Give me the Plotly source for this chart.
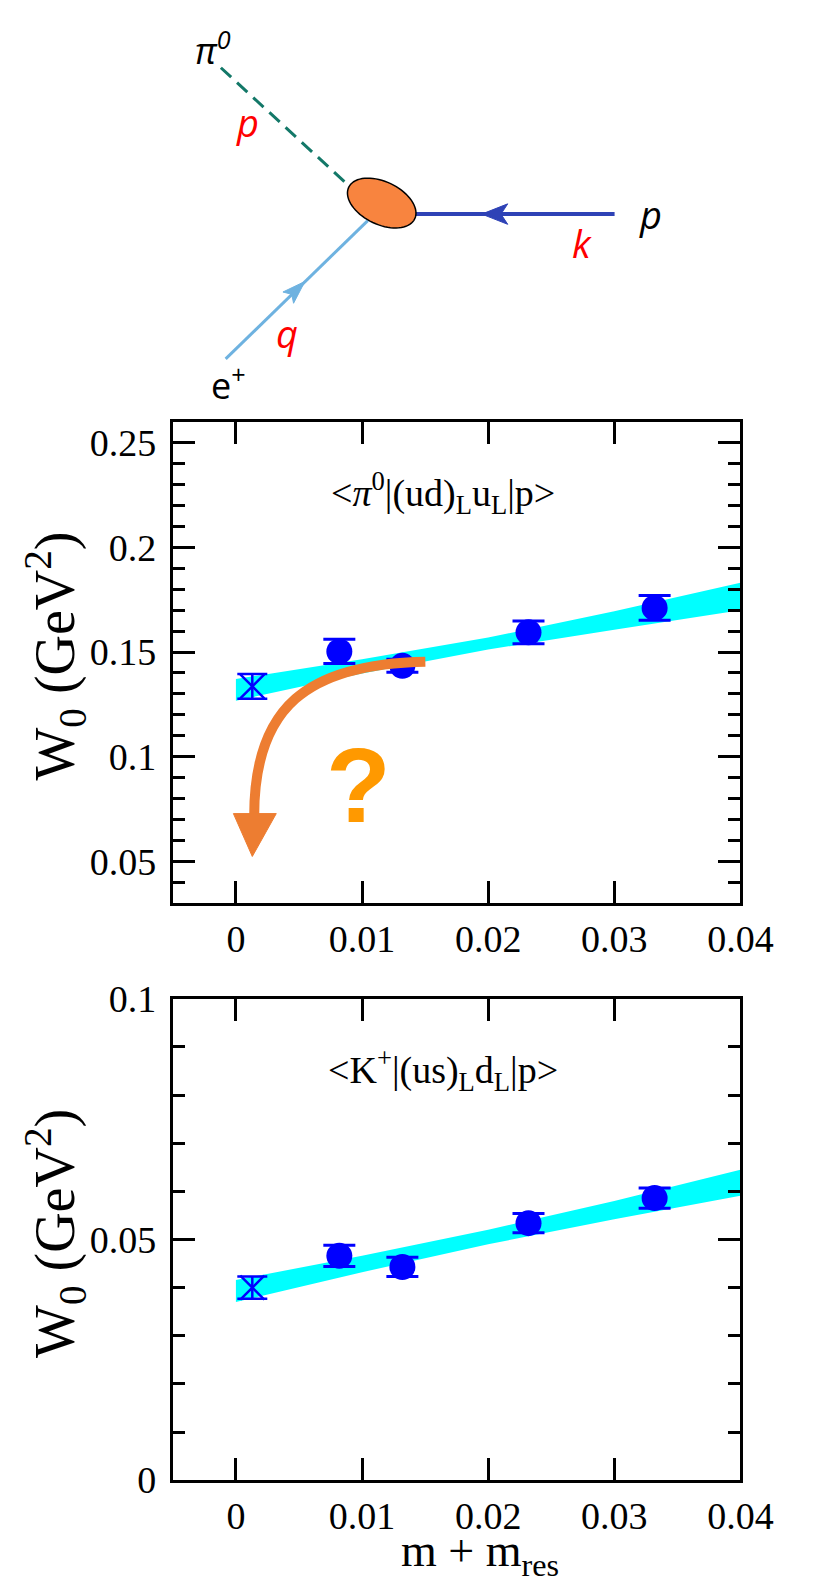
import numpy as np
import plotly.graph_objects as go

# ---------------- data ----------------
mass = [0.0082, 0.0132, 0.0232, 0.0332]          # m + m_res of the simulated points
chiral_x = [0.0013]                               # extrapolated point

pi_W0 = [0.1503, 0.1434, 0.1594, 0.1711]
pi_err = [0.0058, 0.0031, 0.0054, 0.0059]
pi_extrap = [0.1336]
pi_extrap_err = [0.0059]

K_W0 = [0.0466, 0.0443, 0.0534, 0.0586]
K_err = [0.0022, 0.0020, 0.0020, 0.0021]
K_extrap = [0.0400]
K_extrap_err = [0.0023]

band_x = [0.0, 0.01, 0.02, 0.03, 0.04]
pi_band_lo = [0.1267, 0.1398, 0.1512, 0.1607, 0.1700]
pi_band_hi = [0.1371, 0.1466, 0.1569, 0.1695, 0.1831]
K_band_lo = [0.0370, 0.0432, 0.0490, 0.0542, 0.0591]
K_band_hi = [0.0416, 0.0466, 0.0520, 0.0580, 0.0645]

x_ticks = [0, 0.01, 0.02, 0.03, 0.04]
pi_yticks = [0.05, 0.1, 0.15, 0.2, 0.25]
K_yticks = [0, 0.05, 0.1]

# ---------------- figure geometry ----------------
W, H = 831, 1595
def px(v):
    return v / W
def py(v):
    return 1 - v / H

SERIF = "Liberation Serif, Times New Roman, serif"
SANS = "Open Sans"
BLUE = "#0000FF"
CYAN = "#00FFFF"

fig = go.Figure()

def add_panel(xa, ya, lo, hi, vals, errs, ex, exerr):
    fig.add_trace(go.Scatter(
        x=band_x + band_x[::-1], y=hi + lo[::-1], fill="toself",
        fillcolor=CYAN, line=dict(width=0, color=CYAN), mode="lines",
        hoverinfo="skip", showlegend=False, xaxis=xa, yaxis=ya))
    fig.add_trace(go.Scatter(
        x=mass, y=vals, mode="markers",
        marker=dict(symbol="circle", size=26, color=BLUE),
        error_y=dict(type="data", array=errs, color=BLUE, thickness=3, width=16),
        showlegend=False, xaxis=xa, yaxis=ya))
    fig.add_trace(go.Scatter(
        x=chiral_x, y=ex, mode="markers",
        marker=dict(symbol="x-thin", size=24, color=BLUE,
                    line=dict(width=2.5, color=BLUE)),
        error_y=dict(type="data", array=exerr, color=BLUE, thickness=2.5, width=15),
        showlegend=False, xaxis=xa, yaxis=ya))

add_panel("x", "y", pi_band_lo, pi_band_hi, pi_W0, pi_err, pi_extrap, pi_extrap_err)
add_panel("x2", "y2", K_band_lo, K_band_hi, K_W0, K_err, K_extrap, K_extrap_err)

axis_common = dict(showline=True, linecolor="black", linewidth=3, mirror="ticks",
                   ticks="inside", ticklen=22, tickwidth=2.5, tickcolor="black",
                   showgrid=False, zeroline=False,
                   tickfont=dict(family=SERIF, size=38, color="black"))

xdom = [180 / W, 771 / W]
fig.update_layout(
    width=W, height=H, margin=dict(l=0, r=0, t=0, b=0),
    paper_bgcolor="white", plot_bgcolor="white", showlegend=False,
    font=dict(family=SERIF, color="black"),
    xaxis=dict(domain=xdom, range=[-0.005, 0.04], tickvals=x_ticks, anchor="y",
               **axis_common),
    yaxis=dict(domain=[py(906), py(411.7)], range=[0.03, 0.26], tickvals=pi_yticks,
               anchor="x", ticklabelstandoff=6,
               minor=dict(dtick=0.01, tick0=0, ticks="inside", ticklen=12,
                          tickwidth=2.5, tickcolor="black"),
               **axis_common),
    xaxis2=dict(domain=xdom, range=[-0.005, 0.04], tickvals=x_ticks, anchor="y2",
                **axis_common),
    yaxis2=dict(domain=[py(1498.6), py(1004.3)], range=[0, 0.1], tickvals=K_yticks,
                anchor="x2", ticklabelstandoff=6,
                minor=dict(dtick=0.01, tick0=0, ticks="inside", ticklen=12,
                           tickwidth=2.5, tickcolor="black"),
                **axis_common),
)

shapes = []
annos = []

# ---------------- orange "?" arrow in the top panel ----------------
ORANGE = "#ED7D31"
shapes.append(dict(type="path", xref="x", yref="y",
                   path="M 0.01502,0.1454 C 0.00564,0.1444 0.00145,0.1235 0.00145,0.0719",
                   line=dict(color=ORANGE, width=10), fillcolor="rgba(0,0,0,0)",
                   layer="above"))
shapes.append(dict(type="path", xref="x", yref="y",
                   path="M -0.0002,0.0728 L 0.0032,0.0728 L 0.0013,0.0523 Z",
                   line=dict(color=ORANGE, width=1), fillcolor=ORANGE, layer="above"))
annos.append(dict(xref="paper", yref="paper", x=px(373), y=py(785), text="<b>?</b>",
                  showarrow=False, xanchor="center", yanchor="middle",
                  font=dict(family="Liberation Sans", size=106, color="#FF9900")))

# ---------------- panel texts ----------------
annos.append(dict(xref="paper", yref="paper", x=px(461), y=py(485),
                  text="&lt;<i>π</i><sup>0</sup>|(ud)<sub>L</sub>u<sub>L</sub>|p&gt;",
                  showarrow=False, xanchor="center", yanchor="middle",
                  font=dict(family=SERIF, size=38, color="black")))
annos.append(dict(xref="paper", yref="paper", x=px(461), y=py(1077),
                  text="&lt;K<sup>+</sup>|(us)<sub>L</sub>d<sub>L</sub>|p&gt;",
                  showarrow=False, xanchor="center", yanchor="middle",
                  font=dict(family=SERIF, size=38, color="black")))
for yc in (652, 1245):
    annos.append(dict(xref="paper", yref="paper", x=px(57), y=py(yc),
                      text="W<sub>0</sub> (GeV<sup>2</sup>)", textangle=-90,
                      showarrow=False, xanchor="center", yanchor="middle",
                      font=dict(family=SERIF, size=56, color="black")))
annos.append(dict(xref="paper", yref="paper", x=px(500), y=py(1574),
                  text="m + m<sub>res</sub>", showarrow=False,
                  xanchor="center", yanchor="middle",
                  font=dict(family=SERIF, size=46, color="black")))

# ---------------- Feynman-like diagram (pixel geometry) ----------------
def seg(x0, y0, x1, y1, color, width, dash="solid"):
    return dict(type="line", xref="paper", yref="paper",
                x0=px(x0), y0=py(y0), x1=px(x1), y1=py(y1),
                line=dict(color=color, width=width, dash=dash), layer="above")

def path_of(points, closed=True):
    s = "M " + " L ".join(f"{px(a):.5f},{py(b):.5f}" for a, b in points)
    return s + (" Z" if closed else "")

def arrowhead(tip, direction, length, half_w, notch, color):
    d = np.array(direction, float)
    d /= np.linalg.norm(d)
    perp = np.array([-d[1], d[0]])
    t = np.array(tip, float)
    back = t - length * d
    c1 = back + half_w * perp
    c2 = back - half_w * perp
    nb = t - (length - notch) * d
    return dict(type="path", xref="paper", yref="paper",
                path=path_of([t, c1, nb, c2]), fillcolor=color,
                line=dict(color=color, width=1), layer="above")

TEAL = "#137868"
LBLUE = "#6EB2E0"
PBLUE = "#2E42B6"
shapes.append(seg(230, 48, 362, 168, TEAL, 3, "14px,8px"))
shapes.append(seg(235, 347, 383, 205, LBLUE, 3))
shapes.append(seg(430, 198.3, 640, 198.3, PBLUE, 4))
shapes.append(arrowhead((501.7, 198.3), (-1, 0), 27, 10.5, 7, PBLUE))
shapes.append(arrowhead((317.5, 267.5), (147.7, -141.7), 24, 8, 5, LBLUE))

cx, cy, ea, eb, th = 397.5, 187.0, 38.0, 22.0, np.deg2rad(25)
tt = np.linspace(0, 2 * np.pi, 73)
ell = [(cx + ea * np.cos(t) * np.cos(th) - eb * np.sin(t) * np.sin(th),
        cy + ea * np.cos(t) * np.sin(th) + eb * np.sin(t) * np.cos(th)) for t in tt]
shapes.append(dict(type="path", xref="paper", yref="paper", path=path_of(ell),
                   fillcolor="#F8843F", line=dict(color="black", width=1.5),
                   layer="above"))

def label(x, y, text, color, size=38):
    annos.append(dict(xref="paper", yref="paper", x=px(x), y=py(y), text=text,
                      showarrow=False, xanchor="center", yanchor="middle",
                      font=dict(family=SANS, size=size, color=color)))

label(222, 28, "<i>π</i><sup><i>0</i></sup>", "black", 36)
label(258, 104, "<i>p</i>", "#FF0000")
label(677, 198, "<i>p</i>", "black")
label(606, 228, "<i>k</i>", "#FF0000")
label(299, 320, "<i>q</i>", "#FF0000")
label(238, 372, "e<sup>+</sup>", "black", 36)

fig.update_layout(shapes=shapes, annotations=annos)

fig.write_html("out.html", config={"displayModeBar": False},
               post_script="document.body.style.margin='0px';")
